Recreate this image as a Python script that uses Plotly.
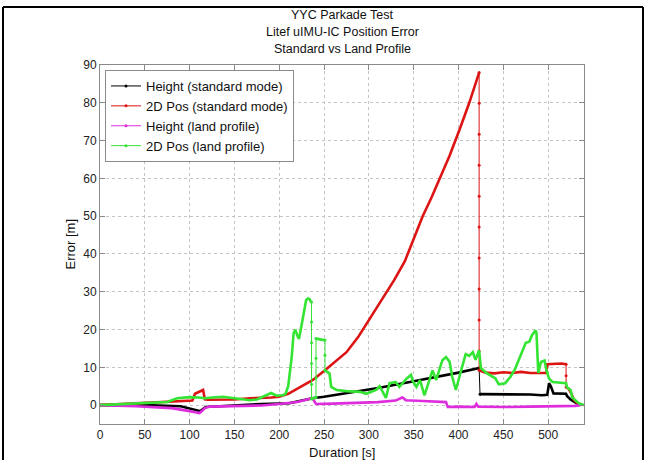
import plotly.graph_objects as go

# ---------------- data ----------------
# Height (standard mode) - black
black_t1 = [0, 50, 90, 105, 112, 118, 150, 180, 211, 237, 250, 275, 300, 312, 350, 380, 400, 423]
black_v1 = [0, 0, -0.3, -1.2, -1.6, -0.5, 0.0, 0.3, 0.5, 1.8, 2.2, 3.1, 4.1, 4.6, 6.3, 7.6, 8.6, 9.8]
black_t2 = [424, 450, 480, 493, 499, 501, 503, 506, 520, 521, 525, 535]
black_v2 = [2.9, 2.9, 2.8, 2.6, 2.7, 5.8, 5.0, 3.1, 3.0, 2.4, 1.5, 0]

# 2D Pos (standard mode) - red
red_t1 = [0, 30, 60, 90, 103, 106, 110, 115, 117, 120, 150, 167, 191, 200, 210, 219, 228, 237,
          250, 262, 275, 288, 300, 314, 328, 340, 349, 360, 370, 379, 390, 401, 412, 423]
red_v1 = [0, 0.3, 0.6, 1.0, 1.2, 3.0, 3.4, 4.0, 1.5, 1.4, 1.5, 1.8, 2.0, 2.2, 3.0, 4.2, 5.3, 6.6,
          9.0, 11.5, 14.0, 18.0, 22.5, 27.5, 33.0, 38.0, 43.6, 50.0, 55.0, 60.0, 66.0, 72.8, 80.0, 88.0]
red_drop_t = [423, 423, 423, 423, 423, 423, 423, 423, 423, 423, 423]
red_drop_v = [88.0, 79.9, 71.7, 63.5, 55.3, 47.1, 38.9, 30.7, 22.5, 14.3, 9.2]
red_t2 = [423, 430, 440, 450, 460, 470, 480, 490, 498, 499, 505, 515, 520]
red_v2 = [9.2, 8.6, 8.4, 8.7, 8.5, 8.8, 8.5, 8.6, 8.5, 10.8, 10.9, 11.0, 10.8]
red_drop2_t = [520, 520, 520]
red_drop2_v = [10.8, 7.8, 4.8]
red_t3 = [520, 523, 526, 529, 535]
red_v3 = [4.8, 4.3, 3.0, 1.3, 0]

# Height (land profile) - magenta
mag_t = [0, 40, 80, 95, 100, 106, 111, 114, 117, 122, 150, 180, 200, 220, 237, 239, 241, 260, 286,
         310, 330, 337, 339, 341, 360, 386, 388, 400, 418, 420, 422, 450, 480, 510, 530, 536]
mag_v = [0, -0.3, -0.8, -1.3, -1.6, -1.9, -2.1, -1.5, -0.8, -0.4, -0.3, -0.1, 0.3, 0.8, 1.8, 1.2, 0.3,
         0.4, 0.6, 0.8, 1.2, 2.0, 1.8, 1.3, 1.1, 0.8, -0.5, -0.4, -0.5, 0.3, -0.4, -0.5, -0.4, -0.3, -0.2, 0]

# 2D Pos (land profile) - green
green_t1 = [0, 30, 60, 75, 86, 100, 110, 117, 125, 137, 150, 160, 167, 175, 185, 191, 197, 204, 207,
            210, 212, 214, 216, 218, 220, 222, 224, 226, 228, 230, 232, 234, 235]
green_v1 = [0, 0.3, 0.6, 0.8, 1.8, 2.1, 2.0, 1.8, 2.0, 2.2, 1.8, 1.5, 1.3, 1.5, 2.5, 3.2, 2.5, 2.6, 3.0,
            5.0, 9.0, 13.0, 19.0, 20.0, 18.5, 17.5, 20.0, 23.0, 26.0, 27.8, 28.2, 28.0, 27.3]
green_drop1_t = [236, 236, 236, 236, 236, 236]
green_drop1_v = [27.3, 22.0, 16.5, 11.0, 5.5, 1.6]
green_t2 = [236, 239, 240]
green_v2 = [1.6, 2.0, 2.0]
green_drop2_t = [241, 241, 241, 241]
green_drop2_v = [2.0, 7.2, 12.4, 17.6]
green_t3 = [241, 245, 250]
green_v3 = [17.6, 17.4, 17.2]
green_drop3_t = [251, 251, 251]
green_drop3_v = [17.2, 13.2, 9.2]
green_t4 = [251, 256, 258, 264, 275, 290, 297, 302, 308, 312, 316, 319, 323, 330, 334, 342, 347, 349,
            353, 357, 362, 367, 371, 375, 379, 382, 386, 390, 393, 397, 401, 405, 408, 412, 416, 419,
            423, 425, 431, 441, 445, 452, 458, 463, 468, 475, 479, 482, 486, 487, 489, 492, 496, 498,
            501, 505, 520, 521, 525, 527, 534, 540]
green_v4 = [9.2, 8.4, 4.8, 4.0, 3.7, 3.5, 3.0, 3.5, 4.0, 5.0, 3.0, 1.9, 5.8, 6.1, 4.8, 7.0, 8.0, 6.3,
            4.8, 6.6, 2.6, 6.0, 9.2, 6.6, 10.0, 11.9, 12.7, 11.5, 7.5, 4.0, 7.5, 11.1, 13.5, 13.0, 14.0, 12.0,
            14.5, 9.8, 8.5, 7.1, 5.5, 5.8, 7.5, 9.5, 12.5, 16.5, 16.8, 18.5, 19.8, 19.0, 8.5, 11.4, 11.8, 9.3,
            7.0, 6.1, 5.8, 4.7, 4.0, 2.0, 0.5, 0]

# axis ticks
x_ticks = [0, 50, 100, 150, 200, 250, 300, 350, 400, 450, 500]
y_ticks = [0, 10, 20, 30, 40, 50, 60, 70, 80, 90]

series_names = ["Height (standard mode)", "2D Pos (standard mode)",
                "Height (land profile)", "2D Pos (land profile)"]
title_lines = ["YYC Parkade Test", "Litef uIMU-IC Position Error", "Standard vs Land Profile"]

# ---------------- figure ----------------
BLACK = "#000000"
RED = "#dd1414"
MAG = "#dd2ddd"
GREEN = "#33e433"
THICK = 2.6

fig = go.Figure()


def thick(t, v, color):
    fig.add_trace(go.Scatter(x=t, y=v, mode="lines", line=dict(color=color, width=THICK),
                             showlegend=False, hoverinfo="skip"))


def thin(t, v, color):
    fig.add_trace(go.Scatter(x=t, y=v, mode="lines+markers", line=dict(color=color, width=1),
                             marker=dict(color=color, size=3), showlegend=False, hoverinfo="skip"))


# black
thick(black_t1, black_v1, BLACK)
thin([black_t1[-1], black_t2[0]], [black_v1[-1], black_v2[0]], BLACK)
thick(black_t2, black_v2, BLACK)

# red
thick(red_t1, red_v1, RED)
thin(red_drop_t, red_drop_v, RED)
thick(red_t2, red_v2, RED)
thin(red_drop2_t, red_drop2_v, RED)
thick(red_t3, red_v3, RED)

# magenta
thick(mag_t, mag_v, MAG)

# green
thick(green_t1, green_v1, GREEN)
thin(green_drop1_t, green_drop1_v, GREEN)
thick(green_t2, green_v2, GREEN)
thin(green_drop2_t, green_drop2_v, GREEN)
thick(green_t3, green_v3, GREEN)
thin(green_drop3_t, green_drop3_v, GREEN)
thick(green_t4, green_v4, GREEN)

# legend entries
for name, color in zip(series_names, [BLACK, RED, MAG, GREEN]):
    fig.add_trace(go.Scatter(x=[None], y=[None], mode="lines+markers", name=name,
                             line=dict(color=color, width=1), marker=dict(color=color, size=3)))

FONT = "Liberation Sans, Arial, sans-serif"
L, R, T, B = 100, 69, 65, 36
W, H = 653, 460
pw, ph = W - L - R, H - T - B


def px_x(x):
    return (x - L) / pw


def px_y(y):
    return (H - B - y) / ph


axis_common = dict(showline=True, linecolor="#8a8a8a", linewidth=1, mirror="ticks",
                   ticks="inside", ticklen=5, tickcolor="#8a8a8a",
                   showgrid=True, gridcolor="#c4c4c4", griddash="dot", gridwidth=1,
                   zeroline=False, tickfont=dict(family=FONT, size=12, color="#222"))

fig.update_layout(
    width=W, height=H,
    margin=dict(l=L, r=R, t=T, b=B),
    plot_bgcolor="white", paper_bgcolor="white",
    font=dict(family=FONT, size=12, color="black"),
    xaxis=dict(range=[0, 540], tickvals=x_ticks, **axis_common),
    yaxis=dict(range=[-5, 90], tickvals=y_ticks, **axis_common),
    legend=dict(x=px_x(105), y=px_y(70), xanchor="left", yanchor="top",
                bgcolor="white", bordercolor="#8a8a8a", borderwidth=1,
                font=dict(family=FONT, size=13, color="#111"),
                itemwidth=30, tracegroupgap=0),
)

ann = []
for i, line in enumerate(title_lines):
    ann.append(dict(text=line, x=0.5, y=px_y(15 + 17 * i), xref="paper", yref="paper",
                    xanchor="center", yanchor="middle", showarrow=False,
                    font=dict(family=FONT, size=12.5, color="#111")))
ann.append(dict(text="Duration [s]", x=0.5, y=px_y(452), xref="paper", yref="paper",
                xanchor="center", yanchor="middle", showarrow=False,
                font=dict(family=FONT, size=13, color="#111")))
ann.append(dict(text="Error [m]", x=px_x(70), y=0.5, xref="paper", yref="paper",
                xanchor="center", yanchor="middle", showarrow=False, textangle=-90,
                font=dict(family=FONT, size=13, color="#111")))
fig.update_layout(annotations=ann)

# outer frame of the picture
frame = dict(type="line", xref="paper", yref="paper", line=dict(color="black", width=2))
fig.update_layout(shapes=[
    dict(frame, x0=px_x(3), x1=px_x(643), y0=px_y(7), y1=px_y(7)),
    dict(frame, x0=px_x(3), x1=px_x(3), y0=px_y(7), y1=px_y(470)),
    dict(frame, x0=px_x(643), x1=px_x(643), y0=px_y(7), y1=px_y(470)),
])

fig.write_html("out.html")
